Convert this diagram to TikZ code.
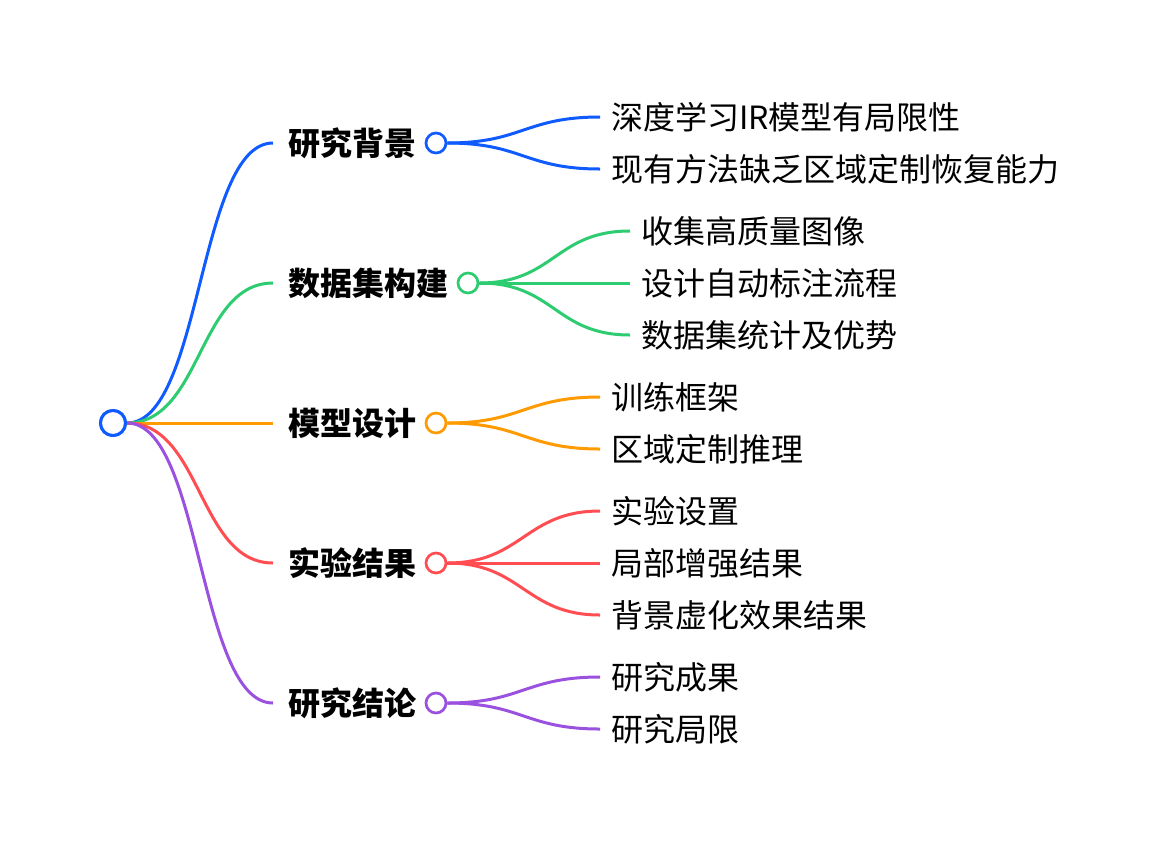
\documentclass[tikz,border=0pt]{standalone}
\usepackage{fontspec}
\setmainfont{Noto Sans CJK SC}
\usetikzlibrary{positioning}

\definecolor{mmblue}{HTML}{0F5BFF}
\definecolor{mmgreen}{HTML}{2ECC71}
\definecolor{mmorange}{HTML}{FF9A00}
\definecolor{mmred}{HTML}{FF4D52}
\definecolor{mmpurple}{HTML}{9B51E0}

\tikzset{
  branch/.style={line width=3pt, #1},
  rootdot/.style={circle, draw=mmblue, line width=3pt, fill=white, minimum size=25pt, inner sep=0pt},
  topicdot/.style={circle, draw=#1, line width=2.7pt, fill=white, minimum size=20pt, inner sep=0pt},
  topic/.style={anchor=west, inner xsep=15pt, font=\fontsize{32}{38}\selectfont\bfseries},
  leaf/.style={anchor=west, inner xsep=11pt, font=\fontsize{32}{38}\selectfont},
}

\begin{document}
\begin{tikzpicture}[x=1pt, y=-1pt]
\useasboundingbox (0,0) rectangle (1158,844);

% Wurzel
\node[rootdot] (root) at (113,423) {};

% Hauptzweige
\node[topic] (bg) at (273,143) {研究背景};
\node[topic] (data) at (273,283) {数据集构建};
\node[topic] (model) at (273,423) {模型设计};
\node[topic] (exp) at (273,563) {实验结果};
\node[topic] (concl) at (273,703) {研究结论};

\draw[branch=mmblue] (root.east) .. controls +(75,0) and +(-75,0) .. (bg.west);
\draw[branch=mmgreen] (root.east) .. controls +(75,0) and +(-75,0) .. (data.west);
\draw[branch=mmorange] (root.east) -- (model.west);
\draw[branch=mmred] (root.east) .. controls +(75,0) and +(-75,0) .. (exp.west);
\draw[branch=mmpurple] (root.east) .. controls +(75,0) and +(-75,0) .. (concl.west);
\node[rootdot] at (root) {};

\node[topicdot=mmblue] (bgdot) at (436,143) {};
\node[topicdot=mmgreen] (datadot) at (468,283) {};
\node[topicdot=mmorange] (modeldot) at (436,423) {};
\node[topicdot=mmred] (expdot) at (436,563) {};
\node[topicdot=mmpurple] (concldot) at (436,703) {};

% Blätter: Forschungshintergrund
\node[leaf] (bg1) at (600,117) {深度学习IR模型有局限性};
\node[leaf] (bg2) at (600,169) {现有方法缺乏区域定制恢复能力};
\draw[branch=mmblue] (bgdot.east) .. controls +(75,0) and +(-75,0) .. (bg1.west);
\draw[branch=mmblue] (bgdot.east) .. controls +(75,0) and +(-75,0) .. (bg2.west);

% Blätter: Datensatz
\node[leaf] (data1) at (630,231) {收集高质量图像};
\node[leaf] (data2) at (630,283) {设计自动标注流程};
\node[leaf] (data3) at (630,335) {数据集统计及优势};
\draw[branch=mmgreen] (datadot.east) .. controls +(75,0) and +(-75,0) .. (data1.west);
\draw[branch=mmgreen] (datadot.east) -- (data2.west);
\draw[branch=mmgreen] (datadot.east) .. controls +(75,0) and +(-75,0) .. (data3.west);

% Blätter: Modell
\node[leaf] (model1) at (600,397) {训练框架};
\node[leaf] (model2) at (600,449) {区域定制推理};
\draw[branch=mmorange] (modeldot.east) .. controls +(75,0) and +(-75,0) .. (model1.west);
\draw[branch=mmorange] (modeldot.east) .. controls +(75,0) and +(-75,0) .. (model2.west);

% Blätter: Experimente
\node[leaf] (exp1) at (600,511) {实验设置};
\node[leaf] (exp2) at (600,563) {局部增强结果};
\node[leaf] (exp3) at (600,615) {背景虚化效果结果};
\draw[branch=mmred] (expdot.east) .. controls +(75,0) and +(-75,0) .. (exp1.west);
\draw[branch=mmred] (expdot.east) -- (exp2.west);
\draw[branch=mmred] (expdot.east) .. controls +(75,0) and +(-75,0) .. (exp3.west);

% Blätter: Fazit
\node[leaf] (concl1) at (600,677) {研究成果};
\node[leaf] (concl2) at (600,729) {研究局限};
\draw[branch=mmpurple] (concldot.east) .. controls +(75,0) and +(-75,0) .. (concl1.west);
\draw[branch=mmpurple] (concldot.east) .. controls +(75,0) and +(-75,0) .. (concl2.west);

\end{tikzpicture}
\end{document}
